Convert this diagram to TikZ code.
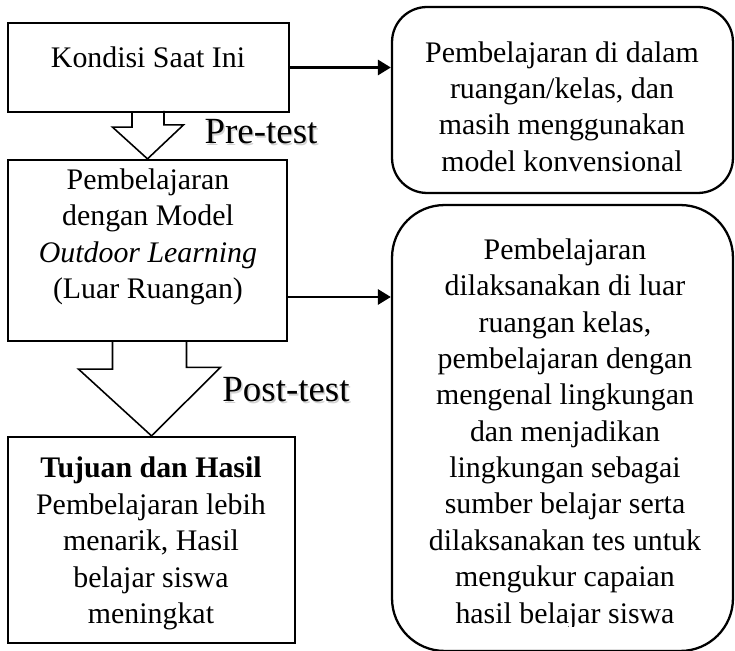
\documentclass[tikz,border=0pt]{standalone}
\usepackage{fontspec}
\setmainfont{Liberation Serif}
\usetikzlibrary{calc,positioning,arrows.meta}

\begin{document}
\begin{tikzpicture}[x=0.02cm,y=-0.02cm]
  \tikzset{
  kotak/.style={draw,line width=1.3pt,inner sep=0pt},
  teks/.style={align=center,inner sep=0pt,font=\fontsize{17}{20.7}\selectfont},
  uji/.style={inner sep=0pt,font=\fontsize{21}{24}\selectfont},
  blok/.style={line width=0.9pt,line join=miter},
  panah/.style={line width=1.7pt,-{Triangle[length=7.4pt,width=8.5pt]}},
  }
  \useasboundingbox (0,0) rectangle (735,651);

  % the boxes on the left
  \node[kotak,minimum width=5.62cm,minimum height=1.78cm] (kondisi) at (148.5,67.5) {};
  \node[kotak,minimum width=5.58cm,minimum height=3.62cm] (belajar) at (147.5,250.5) {};
  \node[kotak,minimum width=5.74cm,minimum height=4.12cm] (tujuan) at (151.5,540) {};

  \node[teks] (kondisi-t) at (148,57.5) {Kondisi Saat Ini};
  \node[teks] (belajar-t) at (148,237) {Pembelajaran\\dengan Model\\\textit{Outdoor Learning}\\(Luar Ruangan)};
  \node[teks] (tujuan-t) at (151,543.5) {\textbf{Tujuan dan Hasil}\\Pembelajaran lebih\\menarik, Hasil\\belajar siswa\\meningkat};

  % the boxes on the right
  \node[kotak,rounded corners=0.7cm,minimum width=6.82cm,minimum height=3.72cm] (kelas) at (562.5,100) {};
  \node[kotak,rounded corners=1.05cm,minimum width=6.82cm,minimum height=8.92cm] (luar) at (562.5,428) {};

  \node[teks] (kelas-t) at (562,106.5) {Pembelajaran di dalam\\ruangan/kelas, dan\\masih menggunakan\\model konvensional};
  \begin{scope}
    \clip (380,0) rectangle (735,627);
    \node[teks] (luar-t) at (565,434) {Pembelajaran\\dilaksanakan di luar\\ruangan kelas,\\pembelajaran dengan\\mengenal lingkungan\\dan menjadikan\\lingkungan sebagai\\sumber belajar serta\\dilaksanakan tes untuk\\mengukur capaian\\hasil belajar siswa};
  \end{scope}

  % the big hollow arrows
  \draw[blok] (kondisi.south) ++(-16.5,0) -- ++(0,14) -- ++(-19.5,0) -- (belajar.north)
    -- ++(36,-34) -- ++(-19.5,0) -- ++(0,-14);
  \draw[blok] (belajar.south) ++(-35,0) -- ++(0,27) -- ++(-34,0) -- (tujuan.north)
    -- ++(69,-68.5) -- ++(-34,0) -- ++(0,-27);

  \node[uji,gray!35] (pre-s) at (262.5,133.5) {Pre-test};
  \node[uji] (pre) at (261,132) {Pre-test};
  \node[uji,gray!35] (post-s) at (287.5,391.5) {Post-test};
  \node[uji] (post) at (286,390) {Post-test};

  % the arrows to the right
  \draw[panah] (kondisi.east) -- (kondisi.east -| kelas.west);
  \draw[panah] ($(belajar.east)+(0,46.5)$) coordinate (b-out) -- (b-out -| luar.west);
\end{tikzpicture}
\end{document}
